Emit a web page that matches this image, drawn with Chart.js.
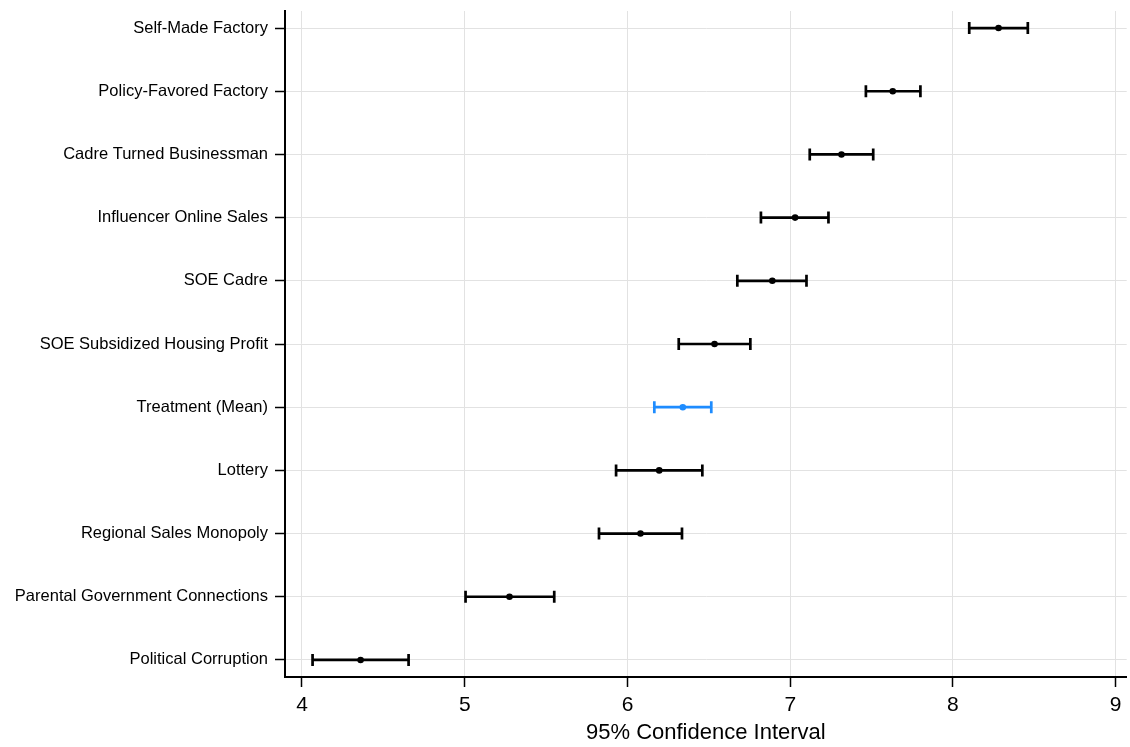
<!DOCTYPE html>
<html lang="en">
<head>
    <meta charset="UTF-8">
    <title>95% Confidence Interval</title>
    <script src="https://cdn.jsdelivr.net/npm/chart.js"></script>
    <style>
        html, body { margin: 0; padding: 0; background: #fff; }
        #wrap { width: 1130px; height: 747px; }
    </style>
</head>
<body>
    <div id="wrap"><canvas id="grafico"></canvas></div>

    <script>
        // categories from top to bottom
        var categorias = [
            "Self-Made Factory",
            "Policy-Favored Factory",
            "Cadre Turned Businessman",
            "Influencer Online Sales",
            "SOE Cadre",
            "SOE Subsidized Housing Profit",
            "Treatment (Mean)",
            "Lottery",
            "Regional Sales Monopoly",
            "Parental Government Connections",
            "Political Corruption"
        ];
        var medias    = [8.28, 7.63, 7.315, 7.03, 6.89, 6.535, 6.34, 6.195, 6.08, 5.275, 4.36];
        var inferior  = [8.10, 7.465, 7.12, 6.82, 6.675, 6.315, 6.165, 5.93, 5.825, 5.005, 4.065];
        var superior  = [8.46, 7.80, 7.51, 7.235, 7.10, 6.755, 6.515, 6.46, 6.335, 5.55, 4.655];
        var xTicks    = [4, 5, 6, 7, 8, 9];
        var destaque  = "Treatment (Mean)";

        var azul = "rgb(30,140,255)";
        var cores = categorias.map(function (c) { return c === destaque ? azul : "#000"; });

        var pontos = medias.map(function (m, i) { return { x: m, y: i }; });

        // barras de erro com tampas, desenhadas antes dos pontos
        var barrasErro = {
            id: "barrasErro",
            beforeDatasetsDraw: function (chart) {
                var ctx = chart.ctx;
                var xs = chart.scales.x, ys = chart.scales.y;
                var cap = 6;
                ctx.save();
                ctx.lineWidth = 2.7;
                for (var i = 0; i < categorias.length; i++) {
                    var y = ys.getPixelForValue(i);
                    var x1 = xs.getPixelForValue(inferior[i]);
                    var x2 = xs.getPixelForValue(superior[i]);
                    ctx.strokeStyle = cores[i];
                    ctx.beginPath();
                    ctx.moveTo(x1, y); ctx.lineTo(x2, y);
                    ctx.moveTo(x1, y - cap); ctx.lineTo(x1, y + cap);
                    ctx.moveTo(x2, y - cap); ctx.lineTo(x2, y + cap);
                    ctx.stroke();
                }
                ctx.restore();
            }
        };

        var fonte = "'Liberation Sans', Arial, Helvetica, sans-serif";

        var ctx = document.getElementById("grafico").getContext("2d");
        var grafico = new Chart(ctx, {
            type: "scatter",
            data: {
                datasets: [{
                    data: pontos,
                    pointRadius: 3.3,
                    pointHoverRadius: 3.3,
                    pointBackgroundColor: cores,
                    pointBorderColor: cores,
                    pointBorderWidth: 0
                }]
            },
            options: {
                responsive: true,
                maintainAspectRatio: false,
                animation: false,
                layout: { padding: { top: 11, right: 0, left: 0, bottom: 0 } },
                plugins: {
                    legend: { display: false },
                    tooltip: { enabled: false }
                },
                scales: {
                    x: {
                        type: "linear",
                        min: 3.8956,
                        max: 9.0676,
                        afterBuildTicks: function (scale) {
                            scale.ticks = xTicks.map(function (v) { return { value: v }; });
                        },
                        afterFit: function (scale) {
                            scale.height = 70;
                            scale.paddingLeft = 0;
                            scale.paddingRight = 0;
                        },
                        grid: {
                            color: "#e2e2e2",
                            lineWidth: 1,
                            drawTicks: true,
                            tickLength: 10,
                            tickColor: "#000",
                            tickWidth: 1.5
                        },
                        border: { display: true, color: "#000", width: 2 },
                        ticks: {
                            color: "#000",
                            padding: 6,
                            font: { family: fonte, size: 21 }
                        },
                        title: {
                            display: true,
                            text: "95% Confidence Interval",
                            color: "#000",
                            padding: { top: 0, bottom: 1 },
                            font: { family: fonte, size: 22 }
                        }
                    },
                    y: {
                        type: "linear",
                        reverse: true,
                        min: -0.27,
                        max: 10.27,
                        afterBuildTicks: function (scale) {
                            scale.ticks = categorias.map(function (c, i) { return { value: i }; });
                        },
                        afterFit: function (scale) {
                            scale.width = 285;
                            scale.paddingTop = 0;
                            scale.paddingBottom = 0;
                        },
                        grid: {
                            color: "#e2e2e2",
                            lineWidth: 1,
                            drawTicks: true,
                            tickLength: 10,
                            tickColor: "#000",
                            tickWidth: 1.5
                        },
                        border: { display: true, color: "#000", width: 2 },
                        ticks: {
                            color: "#000",
                            padding: 7,
                            autoSkip: false,
                            font: { family: fonte, size: 16.5 },
                            callback: function (v) { return categorias[v]; }
                        }
                    }
                }
            },
            plugins: [barrasErro]
        });
    </script>
</body>
</html>
